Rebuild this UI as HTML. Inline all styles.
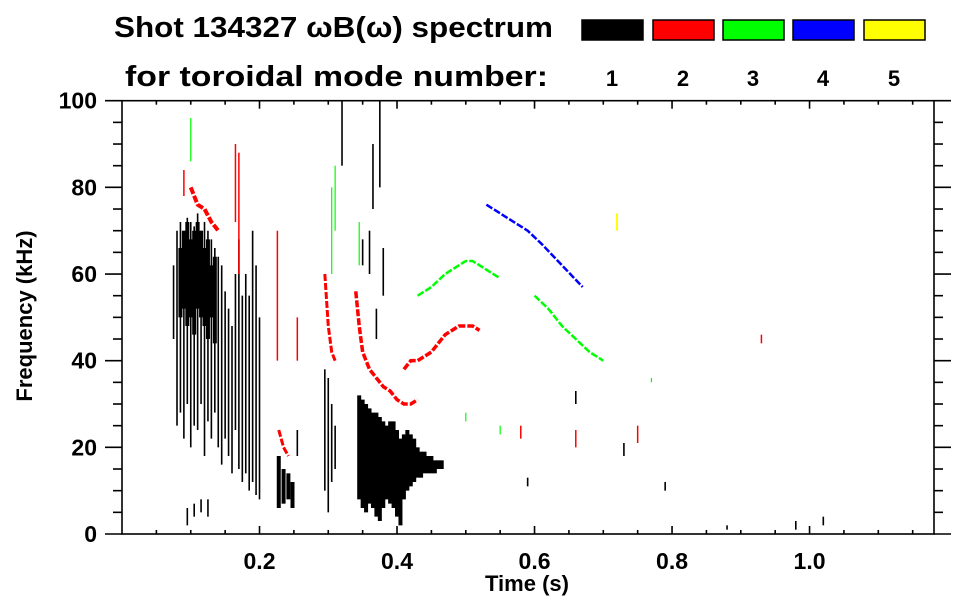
<!DOCTYPE html>
<html><head><meta charset="utf-8"><style>
html,body{margin:0;padding:0;background:#fff;}
svg{display:block;font-family:"Liberation Sans",sans-serif;font-weight:bold;}
</style></head><body>
<svg id="chart" width="963" height="615" viewBox="0 0 963 615" xmlns="http://www.w3.org/2000/svg">
<text x="114" y="37" font-size="29" textLength="439" lengthAdjust="spacingAndGlyphs">Shot 134327 ωB(ω) spectrum</text>
<text x="125" y="86" font-size="29" textLength="423" lengthAdjust="spacingAndGlyphs">for toroidal mode number:</text>
<g id="legend"></g>
<g id="marks"></g>
<g id="axes" stroke="#000" stroke-width="1.6" fill="none"></g>
<g id="labels" font-size="23"></g>
<text transform="translate(32,316) rotate(-90)" text-anchor="middle" font-size="22">Frequency (kHz)</text>
<text x="527" y="591" text-anchor="middle" font-size="22">Time (s)</text>
</svg>
<script>
// ---- data ----
const xTickValues = [0.2, 0.4, 0.6, 0.8, 1.0];
const xTickLabels = ["0.2", "0.4", "0.6", "0.8", "1.0"];
const yTickValues = [0, 20, 40, 60, 80, 100];
const yTickLabels = ["0", "20", "40", "60", "80", "100"];
const modeNumbers = ["1", "2", "3", "4", "5"];
const modeColors = ["#000000", "#ff0000", "#00ff00", "#0000ff", "#ffff00"];

// n=1 (black) vertical strokes: time, low freq, high freq
const blackT  = [0.075,0.08,0.085,0.09,0.095,0.10,0.105,0.11,0.115,0.12,0.125,0.13,0.135,0.14,0.145,0.15,0.155,0.16,0.165,0.17,0.175,0.18,0.185,0.19,0.195,0.20,
                 0.095,0.105,0.115,0.125,
                 0.295,0.30,0.305,0.31,0.255,
                 0.32,0.36,0.365,0.375,0.38,0.37,0.35,
                 0.59,0.66,0.73,0.79,0.88,0.98,1.02];
const blackLo = [45,25,28,22,30,20,25,24,30,18,26,22,28,20,16,22,18,14,24,15,12,14,10,12,9,8,
                 2,4,5,4,
                 10,5,12,15,18,
                 85,60,75,80,55,45,62,
                 11,30,18,10,1,1,2];
const blackHi = [62,70,72,70,73,72,71,74,70,72,70,68,66,64,62,56,52,48,60,68,55,60,55,70,62,50,
                 6,7,8,8,
                 38,36,30,25,24,
                 100,70,90,100,66,52,68,
                 13,33,21,12,2,3,4];
// n=1 dense blobs (thick strokes)
const blobT  = [0.085,0.09,0.095,0.10,0.105,0.11,0.115,0.12,0.125,0.13,0.135, 0.228,0.235,0.242,0.248,
                0.345,0.35,0.355,0.36,0.365,0.37,0.375,0.38,0.385,0.39,0.395,0.40,0.405,0.41,0.415,0.42,0.425,0.43,0.435,0.44,0.445,0.45,0.455,0.46,0.465];
const blobLo = [50,52,48,50,46,52,50,48,45,50,44, 6,7,8,6,
                8,6,5,7,6,4,3,6,8,7,6,4,2,8,10,11,12,13,13,14,14,14,14,15,15];
const blobHi = [66,70,72,68,70,72,70,66,68,62,64, 18,15,14,12,
                32,31,30,29,28,28,27,26,25,26,26,24,22,23,24,23,22,20,19,19,18,18,17,17,17];

// n=2 (red) traces
const redAT = [0.10,0.11,0.12,0.13,0.14];
const redAF = [80,76,75,72,70];
const redBT = [0.295,0.30,0.305,0.31];
const redBF = [60,48,42,40];
const redCT = [0.34,0.345,0.35,0.36,0.37,0.38,0.39,0.40,0.41,0.42,0.43];
const redCF = [56,48,42,38,36,34,33,31,30,30,31];
const redDT = [0.41,0.42,0.43,0.44,0.45,0.46,0.47,0.48,0.49,0.50,0.51,0.52];
const redDF = [38,40,40,41,42,44,46,47,48,48,48,47];
const redET = [0.228,0.235,0.242];
const redEF = [24,20,18];
const redLineT  = [0.226,0.09,0.165,0.17,0.255,0.66,0.75,0.93,0.58];
const redLineLo = [40,78,72,60,40,20,21,44,22];
const redLineHi = [70,84,90,88,50,24,25,46,25];

// n=3 (green) traces
const greenAT = [0.43,0.45,0.47,0.49,0.50,0.51,0.52,0.53,0.55];
const greenAF = [55,57,60,62,63,63,62,61,59];
const greenBT = [0.60,0.62,0.64,0.66,0.68,0.70];
const greenBF = [55,52,48,45,42,40];
const greenLineT  = [0.305,0.31,0.345,0.10,0.50,0.55,0.77];
const greenLineLo = [60,70,62,86,26,23,35];
const greenLineHi = [80,85,72,96,28,25,36];

// n=4 (blue) trace
const blueT = [0.53,0.55,0.57,0.59,0.61,0.64,0.67];
const blueF = [76,74,72,70,67,62,57];

// n=5 (yellow)
const yellowT = [0.72];
const yellowF = [72];

// ---- scales ----
const X0 = 122, X1 = 934, Y0 = 534, Y1 = 100.7;
const xMax = 1.181, yMax = 100;
function xs(t){ return X0 + t / xMax * (X1 - X0); }
function ys(f){ return Y0 - f / yMax * (Y0 - Y1); }

const NS = "http://www.w3.org/2000/svg";
const marks = document.getElementById('marks');
const axes = document.getElementById('axes');
const labels = document.getElementById('labels');
const legend = document.getElementById('legend');

function mk(tag, attrs, parent){
  const e = document.createElementNS(NS, tag);
  for (const k in attrs) e.setAttribute(k, attrs[k]);
  parent.appendChild(e);
  return e;
}

function strokes(T, Lo, Hi, color, w, name){
  for (let i = 0; i < T.length; i++){
    const l = mk('line', {x1: xs(T[i]), x2: xs(T[i]), y1: ys(Lo[i]), y2: ys(Hi[i]), stroke: color, 'stroke-width': w}, marks);
    
    
  }
}
function trace(T, F, color, w, name){
  const p = mk('polyline', {points: T.map((t, i) => xs(t) + ',' + ys(F[i])).join(' '), fill: 'none', stroke: color, 'stroke-width': w, 'stroke-linejoin': 'round', 'stroke-dasharray': '7 2'}, marks);
  
  
}

strokes(blackT, blackLo, blackHi, '#000', 1.6, 'n1-stroke');
strokes(blobT, blobLo, blobHi, '#000', 4, 'n1-blob');
strokes(redLineT, redLineLo, redLineHi, '#f00', 1.5, 'n2-stroke');
strokes(greenLineT, greenLineLo, greenLineHi, '#0f0', 1.2, 'n3-stroke');
trace(redAT, redAF, '#f00', 4, 'n2-trace');
trace(redBT, redBF, '#f00', 3, 'n2-trace');
trace(redCT, redCF, '#f00', 3.5, 'n2-trace');
trace(redDT, redDF, '#f00', 3.5, 'n2-trace');
trace(redET, redEF, '#f00', 3, 'n2-trace');
trace(greenAT, greenAF, '#0f0', 2.5, 'n3-trace');
trace(greenBT, greenBF, '#0f0', 2.5, 'n3-trace');
trace(blueT, blueF, '#00f', 2.5, 'n4-trace');
strokes(yellowT, yellowF.map(f => f - 2), yellowF.map(f => f + 2), '#ff0', 2, 'n5-stroke');

// frame
const fr = mk('rect', {x: X0, y: Y1, width: X1 - X0, height: Y0 - Y1}, axes);



// x ticks (minor every 0.05)
for (let t = 0.05; t < xMax; t += 0.05){
  const major = Math.abs(t / 0.2 - Math.round(t / 0.2)) < 1e-6;
  const len = major ? 8 : 4;
  mk('line', {x1: xs(t), x2: xs(t), y1: Y0, y2: Y0 - len}, axes);
  mk('line', {x1: xs(t), x2: xs(t), y1: Y1, y2: Y1 + len}, axes);
}
// y ticks (minor every 5, outward)
for (let f = 0; f <= 100.001; f += 5){
  const major = Math.abs(f % 20) < 1e-6;
  const len = major ? 17 : 9;
  mk('line', {x1: X0, x2: X0 - len, y1: ys(f), y2: ys(f)}, axes);
  mk('line', {x1: X1, x2: X1 + len, y1: ys(f), y2: ys(f)}, axes);
}
xTickValues.forEach((v, i) => {
  const t = mk('text', {x: xs(v), y: 569, 'text-anchor': 'middle'}, labels);
  t.textContent = xTickLabels[i];
  
  
});
yTickValues.forEach((v, i) => {
  const t = mk('text', {x: 97, y: ys(v) + 8, 'text-anchor': 'end'}, labels);
  t.textContent = yTickLabels[i];
  
  
});

// legend
const boxX = [582, 653, 723, 793, 864];
modeNumbers.forEach((m, i) => {
  const r = mk('rect', {x: boxX[i], y: 20, width: 61, height: 20, fill: modeColors[i], stroke: '#000', 'stroke-width': 1.5}, legend);
  
  
  const t = mk('text', {x: boxX[i] + 30, y: 86, 'text-anchor': 'middle', 'font-size': 22}, legend);
  t.textContent = m;
  
  
});
</script>
</body></html>
